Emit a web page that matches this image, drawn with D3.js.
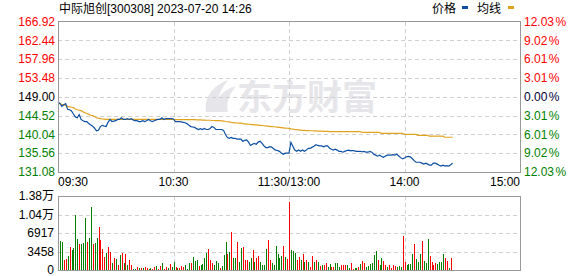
<!DOCTYPE html>
<html>
<head>
<meta charset="utf-8">
<script src="https://cdn.jsdelivr.net/npm/d3@7"></script>
<style>
  body { margin: 0; background: #fff; }
  svg text { font-family: "Liberation Sans", Arial, "Noto Sans CJK SC", sans-serif; font-size: 12px; }
  .grid { stroke: #d0d0d0; stroke-dasharray: 4,3; shape-rendering: crispEdges; }
  .frame { fill: none; stroke: #999; shape-rendering: crispEdges; }
</style>
</head>
<body>
<svg id="chart" width="578" height="276"></svg>
<script>
// ── Data ──
const title = "中际旭创[300308] 2023-07-20 14:26";
const priceTicks = ["166.92", "162.44", "157.96", "153.48", "149.00", "144.52", "140.04", "135.56", "131.08"];
const pctTicks = ["12.03", "9.02", "6.01", "3.01", "0.00", "3.01", "6.01", "9.02", "12.03"];
const timeTicks = [
  { idx: 0, label: "09:30", anchor: "start" },
  { idx: 60, label: "10:30", anchor: "middle" },
  { idx: 120, label: "11:30/13:00", anchor: "middle" },
  { idx: 180, label: "14:00", anchor: "middle" },
  { idx: 240, label: "15:00", anchor: "end" }
];
const volTicks = [0, 3458, 6917, 10375, 13834];
const volTickLabels = ["0", "3458", "6917", "1.04万", "1.38万"];
const prevClose = 149.00;

// minute prices, 09:30 … 14:25
const price = [
  147.66,147.4,146.7,147.1,147.35,146.0,145.9,145.6,144.9,144.2,
  144.0,144.75,143.6,143.3,143.1,143.1,142.6,142.3,142.0,141.5,
  140.9,141.0,141.9,142.2,142.0,141.9,142.9,143.6,143.1,143.2,
  143.3,143.6,143.6,144.0,143.6,143.6,143.8,143.6,143.8,143.5,
  143.3,143.3,143.1,143.1,143.3,143.1,143.3,143.6,143.3,143.1,
  143.3,143.5,143.6,143.6,144.0,143.6,143.8,143.8,143.8,143.8,
  143.7,143.1,143.1,143.1,143.0,142.9,142.8,142.6,142.2,141.9,
  141.8,141.7,141.4,141.2,141.4,141.2,141.45,141.2,141.2,141.45,
  141.9,141.7,141.2,141.2,141.2,141.2,141.0,140.0,139.3,139.1,
  139.3,139.1,139.1,138.9,138.9,138.9,138.4,138.6,138.7,138.2,
  137.4,137.7,137.9,137.7,138.2,138.4,137.9,137.3,136.9,136.9,
  137.1,137.0,136.6,136.3,136.2,136.0,135.6,135.3,135.56,135.56,
  135.56,138.15,137.2,136.3,136.0,136.3,136.0,136.3,136.0,136.3,
  136.7,136.7,137.0,137.2,137.6,137.4,137.3,137.3,137.1,137.3,
  137.3,136.8,136.5,136.3,136.5,136.3,136.0,136.0,135.8,136.0,
  136.2,136.3,136.1,136.2,136.1,136.0,136.0,136.0,135.9,136.0,
  135.8,135.8,136.0,135.8,135.3,135.1,134.85,135.1,134.85,134.6,
  134.85,135.1,135.1,135.1,135.2,135.1,135.3,134.9,134.5,134.2,
  134.4,134.7,134.8,134.7,134.3,133.8,133.4,133.4,133.4,133.2,
  132.96,133.2,132.96,132.7,132.7,133.2,133.2,132.96,132.7,132.5,
  132.7,132.5,132.6,132.5,132.8,133.2
];

// running average price (均线)
const avgPrice = [
  147.66,147.4,147.2,147.1,146.9,146.7,146.6,146.5,146.4,146.1,
  145.9,145.8,145.7,145.4,145.2,145.0,144.8,144.6,144.5,144.3,
  144.0,143.9,143.8,143.7,143.65,143.6,143.6,143.6,143.6,143.6,
  143.6,143.6,143.6,143.6,143.6,143.6,143.6,143.6,143.6,143.6,
  143.6,143.6,143.6,143.6,143.6,143.6,143.6,143.6,143.6,143.6,
  143.6,143.6,143.6,143.6,143.6,143.6,143.6,143.6,143.6,143.6,
  143.55,143.55,143.55,143.55,143.55,143.55,143.55,143.55,143.55,143.55,
  143.55,143.55,143.5,143.5,143.5,143.45,143.45,143.4,143.4,143.4,
  143.35,143.35,143.3,143.3,143.3,143.25,143.2,143.1,143.05,143.0,
  142.9,142.85,142.8,142.75,142.7,142.7,142.6,142.55,142.5,142.45,
  142.4,142.35,142.3,142.3,142.25,142.2,142.15,142.1,142.05,142.0,
  141.95,141.9,141.85,141.8,141.75,141.7,141.65,141.6,141.55,141.5,
  141.45,141.35,141.3,141.2,141.15,141.1,141.05,141.0,141.0,140.95,
  140.95,140.9,140.9,140.85,140.85,140.8,140.8,140.8,140.75,140.75,
  140.75,140.7,140.7,140.7,140.7,140.7,140.7,140.7,140.7,140.7,
  140.7,140.7,140.7,140.7,140.7,140.7,140.7,140.7,140.5,140.5,
  140.5,140.5,140.5,140.5,140.5,140.5,140.5,140.5,140.3,140.3,
  140.3,140.3,140.3,140.3,140.3,140.3,140.3,140.3,140.3,140.3,
  140.04,140.04,140.04,140.04,140.04,140.04,140.04,139.8,139.8,139.8,
  139.8,139.8,139.8,139.6,139.6,139.6,139.6,139.6,139.6,139.6,
  139.6,139.35,139.35,139.35,139.35,139.35
];

// minute volume and direction (1 = up/red, 0 = down/green)
const volume = [
  5420,5230,1870,2060,2620,4300,3740,4110,10280,5800,
  4860,4860,5050,9720,5230,5980,11780,4860,5050,5980,
  8040,5610,3930,2430,3180,4300,3360,1310,2240,2060,
  935,2800,3180,1310,2990,935,1870,935,190,190,
  560,370,370,370,560,370,190,370,190,560,
  750,190,750,1310,190,560,370,1120,560,1500,
  560,370,370,750,560,935,190,1310,1310,2430,
  1680,1870,750,935,1120,2240,3180,3930,1870,1310,
  935,1680,1310,370,750,2800,5230,2990,3360,7100,
  2240,2240,5230,1500,4110,4300,1870,1870,1500,2240,
  3740,1500,2240,2620,1500,935,935,3930,5610,1870,
  1310,935,4490,2990,2240,2620,4490,2430,2060,12710,
  3740,3550,3180,1870,2430,1870,2990,1500,1870,1500,
  560,2620,1500,1870,1500,750,935,935,1310,560,
  1120,560,560,1310,1310,560,935,935,935,935,
  370,1310,190,370,370,560,1120,1680,1310,560,
  750,1120,1310,2800,3550,1870,935,2240,1680,935,
  560,935,370,935,750,560,750,560,6360,1500,
  935,1120,1120,2990,4860,2060,1500,2990,5420,1680,
  1310,5800,2620,1500,935,1310,1120,1500,1500,2990,
  2240,1680,370,2240
];
const volUp = [
  0,0,1,1,0,1,0,0,0,0, 1,0,0,0,1,0,0,1,0,0,
  1,1,1,1,0,1,1,0,1,0, 1,0,1,0,1,0,1,1,0,0,
  1,0,1,0,1,1,0,0,1,1, 0,1,1,0,1,1,0,1,0,0,
  1,0,1,1,1,0,0,0,1,0, 0,0,1,0,0,0,0,1,1,1,
  0,0,0,1,0,0,0,1,0,1, 0,0,1,0,0,1,1,1,0,0,
  1,0,1,1,0,0,0,0,1,1, 0,0,0,0,0,0,1,0,1,1,
  0,0,0,1,1,0,1,0,1,0, 1,1,0,1,0,1,0,1,1,0,
  0,1,1,0,0,0,1,1,1,0, 0,1,1,0,0,1,0,1,1,0,
  0,0,0,0,0,1,0,0,1,1, 0,1,1,1,1,0,0,0,1,1,
  0,0,0,0,1,0,0,0,1,0, 0,0,1,1,1,1,0,0,0,0,
  1,1,0,1
];

// ── Layout ──
const svg = d3.select("#chart");
const left = 58, right = 520;
const mainTop = 21.5, mainBottom = 172;
const volTop = 196, volBottom = 270;

const RED = "#ff0000", GREEN = "#008000";

const x = d3.scaleLinear().domain([0, 240]).range([left, right]);
const y = d3.scaleLinear().domain([131.08, 166.92]).range([mainBottom, mainTop]);
const yVol = d3.scaleLinear().domain([0, 13834]).range([volBottom, volTop]);

// ── Title & legend ──
svg.append("text").attr("x", 59).attr("y", 13).attr("fill", "#000").text(title);

svg.append("text").attr("x", 432).attr("y", 13).attr("fill", "#000").text("价格");
svg.append("rect").attr("x", 462).attr("y", 6).attr("width", 6).attr("height", 3).attr("fill", "#0c4ea2");
svg.append("text").attr("x", 477).attr("y", 13).attr("fill", "#000").text("均线");
svg.append("rect").attr("x", 508).attr("y", 6).attr("width", 6).attr("height", 3).attr("fill", "#e0a21c");

// ── Watermark ──
const wm = svg.append("g").attr("fill", "#e6e6ea");
wm.append("path")
  .attr("d", "M206,112 C204,98 212,86 228,80 C220,90 216,100 218,112 Z M214,112 C214,100 222,90 236,86 C228,96 226,104 228,112 Z");
wm.append("text").attr("x", 237).attr("y", 110)
  .style("font-size", "35px").style("font-weight", "bold")
  .style("font-family", "'Noto Sans CJK SC', sans-serif")
  .text("东方财富");

// ── Main grid ──
const priceLevels = priceTicks.map(Number);
svg.append("g").selectAll("line")
  .data(priceLevels.slice(1, -1))
  .join("line")
  .attr("class", "grid")
  .attr("x1", left).attr("x2", right)
  .attr("y1", d => Math.round(y(d)) + 0.5).attr("y2", d => Math.round(y(d)) + 0.5);

const vIdx = [60, 120, 180];
[[mainTop, mainBottom], [volTop, volBottom]].forEach(([t, b]) => {
  svg.append("g").selectAll("line")
    .data(vIdx)
    .join("line")
    .attr("class", "grid")
    .attr("x1", d => Math.round(x(d)) + 0.5).attr("x2", d => Math.round(x(d)) + 0.5)
    .attr("y1", t).attr("y2", b);
});

svg.append("g").selectAll("line")
  .data(volTicks.slice(1, -1))
  .join("line")
  .attr("class", "grid")
  .attr("x1", left).attr("x2", right)
  .attr("y1", d => Math.round(yVol(d)) + 0.5).attr("y2", d => Math.round(yVol(d)) + 0.5);

// ── Price axis labels ──
const labelColor = v => v > prevClose ? RED : (v < prevClose ? GREEN : "#000");
svg.append("g").selectAll("text")
  .data(priceTicks)
  .join("text")
  .attr("x", 55)
  .attr("y", d => y(+d))
  .attr("dy", "0.35em")
  .attr("text-anchor", "end")
  .attr("fill", d => labelColor(+d))
  .text(d => d);

const pct = svg.append("g").selectAll("text")
  .data(pctTicks.map((p, i) => ({ p, v: priceLevels[i] })))
  .join("text")
  .attr("x", 524)
  .attr("y", d => y(d.v))
  .attr("dy", "0.35em")
  .attr("fill", d => d.v === prevClose ? "#000033" : labelColor(d.v));
pct.append("tspan").text(d => d.p);
pct.append("tspan").attr("dx", 1.5).text("%");

// ── Time labels ──
svg.append("g").selectAll("text")
  .data(timeTicks)
  .join("text")
  .attr("x", d => x(d.idx))
  .attr("y", 186)
  .attr("text-anchor", d => d.anchor)
  .attr("fill", "#000")
  .text(d => d.label);

// ── Volume labels ──
svg.append("g").selectAll("text")
  .data(volTicks)
  .join("text")
  .attr("x", 54)
  .attr("y", d => yVol(d))
  .attr("dy", "0.35em")
  .attr("text-anchor", "end")
  .attr("fill", "#000")
  .text((d, i) => volTickLabels[i]);

// ── Volume bars ──
svg.append("g").selectAll("rect")
  .data(volume)
  .join("rect")
  .attr("x", (d, i) => Math.round(x(i) + 2))
  .attr("width", 1)
  .attr("y", d => Math.round(yVol(d)))
  .attr("height", d => volBottom - Math.round(yVol(d)))
  .attr("fill", (d, i) => volUp[i] ? RED : GREEN)
  .attr("shape-rendering", "crispEdges");

// ── Lines ──
const line = d3.line().x((d, i) => x(i)).y(d => y(d));
svg.append("path").datum(avgPrice)
  .attr("d", line).attr("fill", "none").attr("stroke", "#e0a21c").attr("stroke-width", 1.2);
svg.append("path").datum(price)
  .attr("d", line).attr("fill", "none").attr("stroke", "#0c4ea2").attr("stroke-width", 1.2);

// ── Frames ──
svg.append("rect").attr("class", "frame")
  .attr("x", left + 0.5).attr("y", mainTop).attr("width", right - left).attr("height", mainBottom - mainTop);
svg.append("rect").attr("class", "frame")
  .attr("x", left + 0.5).attr("y", volTop + 0.5).attr("width", right - left).attr("height", volBottom - volTop);
</script>
</body>
</html>
